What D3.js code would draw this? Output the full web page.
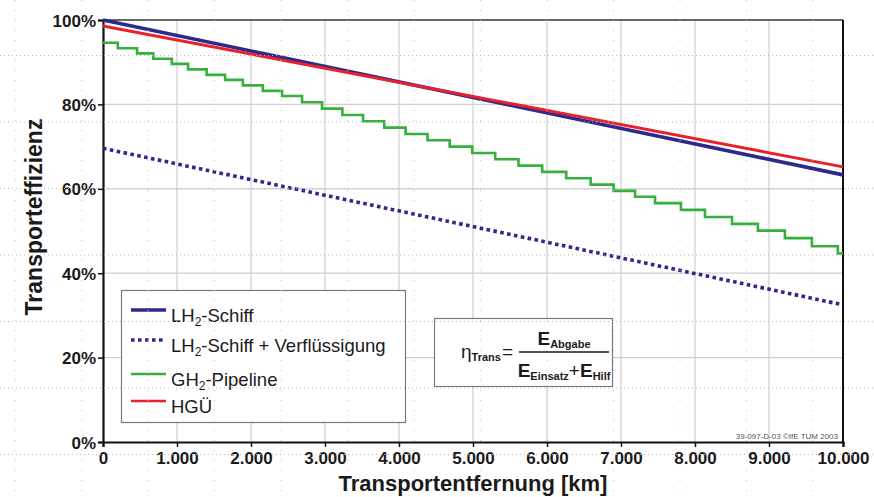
<!DOCTYPE html>
<html>
<head>
<meta charset="utf-8">
<script src="https://cdn.jsdelivr.net/npm/d3@7"></script>
<style>
  body { margin: 0; background: #fff; }
  svg { display: block; font-family: "Liberation Sans", Arial, sans-serif; }
</style>
</head>
<body>
<script>
// ---- data ----
var distKm = [0, 10000];
var lh2Ship = [100, 63.3];           // LH2-Schiff
var lh2ShipLiq = [69.6, 32.5];       // LH2-Schiff + Verflüssigung
var hgu = [98.6, 65.2];              // HGÜ
// GH2-Pipeline: km where the curve drops, and the level after each drop
var gh2StepKm = [200, 460, 680, 930, 1150, 1400, 1650, 1890, 2160, 2420,
  2690, 2960, 3235, 3515, 3800, 4090, 4385, 4685, 4990, 5300, 5615, 5935,
  6260, 6590, 6900, 7190, 7460, 7810, 8135, 8500, 8850, 9215, 9580, 9930];
var gh2Levels = [94.6, 93.3, 92.1, 90.8, 89.6, 88.3, 87.0, 85.8, 84.5, 83.2, 82.0,
  80.5, 79.0, 77.5, 76.0, 74.5, 73.0, 71.5, 70.0, 68.5, 67.0, 65.5, 64.0,
  62.5, 61.0, 59.5, 58.1, 56.6, 55.0, 53.3, 51.7, 50.1, 48.3, 46.4, 44.7];
var xTicks = [0, 1000, 2000, 3000, 4000, 5000, 6000, 7000, 8000, 9000, 10000];
var yTicks = [0, 20, 40, 60, 80, 100];

var W = 874, H = 497;
var svg = d3.select("body").append("svg").attr("width", W).attr("height", H);

var x = d3.scaleLinear().domain([0, 10000]).range([103, 843]);
var y = d3.scaleLinear().domain([0, 100]).range([442, 20]);

//============================================================
// gridlines
svg.append("g").selectAll("line.vg")
  .data(xTicks.slice(1, -1)).enter().append("line")
  .attr("x1", d => x(d)).attr("x2", d => x(d))
  .attr("y1", y(100)).attr("y2", y(0))
  .attr("stroke", "#cfcfcf").attr("stroke-width", 1.2);
svg.append("g").selectAll("line.hg")
  .data(yTicks.slice(1, -1)).enter().append("line")
  .attr("x1", x(0)).attr("x2", x(10000))
  .attr("y1", d => y(d)).attr("y2", d => y(d))
  .attr("stroke", "#cfcfcf").attr("stroke-width", 1.2);

// frame: top grey, right black
svg.append("line").attr("x1", x(0)).attr("x2", x(10000)).attr("y1", y(100)).attr("y2", y(100))
  .attr("stroke", "#666").attr("stroke-width", 2);
svg.append("line").attr("x1", x(10000)).attr("x2", x(10000)).attr("y1", y(100)).attr("y2", y(0))
  .attr("stroke", "#111").attr("stroke-width", 2);

//============================================================
// axes
var fmtKm = d => d === 0 ? "0" : d3.format(",")(d).replace(/,/g, ".");
var xAxis = svg.append("g").attr("transform", "translate(0," + y(0) + ")")
  .call(d3.axisBottom(x).tickValues(xTicks).tickFormat(fmtKm).tickSizeOuter(0).tickSize(5).tickPadding(5));
var yAxis = svg.append("g").attr("transform", "translate(" + x(0) + ",0)")
  .call(d3.axisLeft(y).tickValues(yTicks).tickFormat(d => d + "%").tickSizeOuter(0).tickSize(5).tickPadding(2));
[xAxis, yAxis].forEach(function (a) {
  a.select(".domain").attr("stroke", "#111").attr("stroke-width", 2.2);
  a.selectAll(".tick line").attr("stroke", "#111").attr("stroke-width", 1.5);
  a.selectAll("text").attr("font-family", "Liberation Sans, Arial, sans-serif")
    .attr("font-size", 17).attr("font-weight", "bold").attr("fill", "#1a1a1a");
});
yAxis.selectAll("text").attr("dy", "0.36em");

svg.append("text").attr("x", 473).attr("y", 491).attr("text-anchor", "middle")
  .attr("font-size", 22).attr("font-weight", "bold").attr("fill", "#1a1a1a")
  .text("Transportentfernung [km]");
svg.append("text").attr("transform", "translate(42,217) rotate(-90)").attr("text-anchor", "middle")
  .attr("font-size", 23).attr("font-weight", "bold").attr("fill", "#1a1a1a")
  .text("Transporteffizienz");

//============================================================
// series
var navy = "#2d2a8c", red = "#e8212b", green = "#36b03c";
var line = d3.line().x(d => x(d[0])).y(d => y(d[1]));

var stepPts = [[0, gh2Levels[0]]];
gh2StepKm.forEach(function (k, i) { stepPts.push([k, gh2Levels[i]]); stepPts.push([k, gh2Levels[i + 1]]); });
stepPts.push([10000, gh2Levels[gh2Levels.length - 1]]);

svg.append("path").datum(stepPts).attr("d", line)
  .attr("fill", "none").attr("stroke", green).attr("stroke-width", 2.6);
svg.append("path").datum(distKm.map((d, i) => [d, lh2ShipLiq[i]])).attr("d", line)
  .attr("fill", "none").attr("stroke", navy).attr("stroke-width", 3.6).attr("stroke-dasharray", "3.6 3.4");
svg.append("path").datum(distKm.map((d, i) => [d, lh2Ship[i]])).attr("d", line)
  .attr("fill", "none").attr("stroke", navy).attr("stroke-width", 3.6);
svg.append("path").datum(distKm.map((d, i) => [d, hgu[i]])).attr("d", line)
  .attr("fill", "none").attr("stroke", red).attr("stroke-width", 3);

//============================================================
// legend
var legend = svg.append("g");
legend.append("rect").attr("x", 121.5).attr("y", 290.5).attr("width", 284).attr("height", 132)
  .attr("fill", "#fff").attr("stroke", "#7a7a7a").attr("stroke-width", 1.2);
var legItems = [
  { pre: "LH", sub: "2", post: "-Schiff", color: navy, dash: null, w: 3.6, ly: 310 },
  { pre: "LH", sub: "2", post: "-Schiff + Verflüssigung", color: navy, dash: "3.6 3.4", w: 3.6, ly: 340 },
  { pre: "GH", sub: "2", post: "-Pipeline", color: green, dash: null, w: 2.6, ly: 374 },
  { pre: "HGÜ", sub: "", post: "", color: red, dash: null, w: 2.6, ly: 401 }
];
var li = legend.selectAll("g.item").data(legItems).enter().append("g");
li.append("line").attr("x1", 131).attr("x2", 166).attr("y1", d => d.ly).attr("y2", d => d.ly)
  .attr("stroke", d => d.color).attr("stroke-width", d => d.w).attr("stroke-dasharray", d => d.dash);
var lt = li.append("text").attr("x", 171).attr("y", d => d.ly + 12).attr("font-size", 18.5).attr("fill", "#1a1a1a");
lt.append("tspan").text(d => d.pre);
lt.append("tspan").attr("font-size", 12).attr("dy", 4).text(d => d.sub);
lt.append("tspan").attr("dy", d => d.sub ? -4 : 0).text(d => d.post);

//============================================================
// formula box
var fb = svg.append("g");
fb.append("rect").attr("x", 434.5).attr("y", 318.5).attr("width", 178).attr("height", 68)
  .attr("fill", "#fff").attr("stroke", "#7a7a7a").attr("stroke-width", 1.2);
var eta = fb.append("text").attr("x", 461).attr("y", 358).attr("fill", "#1a1a1a");
eta.append("tspan").attr("font-size", 19).text("\u03b7");
eta.append("tspan").attr("font-size", 11).attr("font-weight", "bold").attr("dy", 3).text("Trans");
fb.append("text").attr("x", 502).attr("y", 358).attr("font-size", 19).attr("fill", "#1a1a1a").text("=");
fb.append("line").attr("x1", 519).attr("x2", 609).attr("y1", 352).attr("y2", 352)
  .attr("stroke", "#1a1a1a").attr("stroke-width", 1.5);
var num = fb.append("text").attr("x", 564).attr("y", 345).attr("text-anchor", "middle")
  .attr("font-weight", "bold").attr("fill", "#1a1a1a");
num.append("tspan").attr("font-size", 19).text("E");
num.append("tspan").attr("font-size", 11).attr("dy", 3).text("Abgabe");
var den = fb.append("text").attr("x", 564).attr("y", 377).attr("text-anchor", "middle")
  .attr("font-weight", "bold").attr("fill", "#1a1a1a");
den.append("tspan").attr("font-size", 19).text("E");
den.append("tspan").attr("font-size", 11).attr("dy", 3).text("Einsatz");
den.append("tspan").attr("font-size", 19).attr("font-weight", "normal").attr("dy", -3).text("+");
den.append("tspan").attr("font-size", 19).text("E");
den.append("tspan").attr("font-size", 11).attr("dy", 3).text("Hilf");

svg.append("text").attr("x", 838).attr("y", 439).attr("text-anchor", "end")
  .attr("font-size", 8).attr("fill", "#555").text("39-097-D-03 \u00a9IfE TUM 2003");

//============================================================
// faint dotted paper grid over the whole page
var bgY = [55.5, 122, 188.5, 255, 321.5, 388, 454.5];
var bgX = [15, 81.5, 148, 214.5, 281, 347.5, 414, 480.5, 547, 613.5, 680, 746.5, 813];
svg.append("g").selectAll("line").data(bgY).enter().append("line")
  .attr("x1", 0).attr("x2", W).attr("y1", d => d).attr("y2", d => d)
  .attr("stroke", "#b8b8b8").attr("stroke-width", 1).attr("stroke-dasharray", "1 3");
svg.append("g").selectAll("line").data(bgX).enter().append("line")
  .attr("x1", d => d).attr("x2", d => d).attr("y1", 0).attr("y2", H)
  .attr("stroke", "#c4c4c4").attr("stroke-width", 1).attr("stroke-dasharray", "1 9");
</script>
</body>
</html>
